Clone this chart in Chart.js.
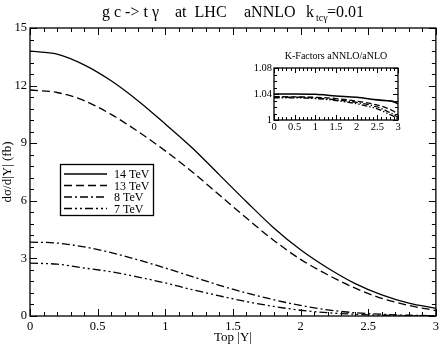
<!DOCTYPE html>
<html>
<head>
<meta charset="utf-8">
<script src="https://cdn.jsdelivr.net/npm/chart.js@4/dist/chart.umd.min.js"></script>
<style>
  html, body { margin: 0; padding: 0; background: #fff; }
  #wrap { position: relative; width: 442px; height: 345px; }
  #main { position: absolute; left: 0; top: 0; }
  #inset { position: absolute; left: 240px; top: 45px; }
</style>
</head>
<body>
<div id="wrap">
  <canvas id="main" width="442" height="345"></canvas>
  <canvas id="inset" width="170" height="95"></canvas>
</div>
<script>
// ---- data ----
const rapidity = [0, 0.2, 0.4, 0.6, 0.8, 1.0, 1.2, 1.4, 1.6, 1.8, 2.0, 2.2, 2.4, 2.6, 2.8, 3.0];
const seriesLabels = ['14 TeV', '13 TeV', '8 TeV', '7 TeV'];
const xsec14 = [13.8, 13.64, 13.08, 12.25, 11.2, 10.0, 8.75, 7.35, 5.95, 4.6, 3.45, 2.5, 1.7, 1.1, 0.67, 0.4];
const xsec13 = [11.77, 11.64, 11.22, 10.5, 9.6, 8.6, 7.5, 6.3, 5.1, 3.95, 2.95, 2.15, 1.46, 0.92, 0.55, 0.28];
const xsec8  = [3.85, 3.8, 3.6, 3.3, 2.92, 2.5, 2.05, 1.6, 1.2, 0.85, 0.55, 0.32, 0.17, 0.09, 0.04, 0.02];
const xsec7  = [2.75, 2.7, 2.5, 2.3, 2.03, 1.72, 1.37, 1.05, 0.75, 0.5, 0.3, 0.17, 0.09, 0.04, 0.02, 0.01];

const kRapidity = [0, 0.5, 1.0, 1.5, 2.0, 2.5, 2.75, 2.85, 3.0];
const kfac14 = [1.040, 1.040, 1.0395, 1.037, 1.035, 1.031, 1.0295, 1.029, 1.025];
const kfac13 = [1.036, 1.0355, 1.035, 1.033, 1.029, 1.023, 1.018, 1.015, 1.009];
const kfac8  = [1.035, 1.035, 1.034, 1.031, 1.027, 1.020, 1.013, 1.010, 1.004];
const kfac7  = [1.034, 1.034, 1.033, 1.030, 1.025, 1.017, 1.010, 1.007, 1.002];

const xTickStep = 0.5, yTickStep = 3;
const titleText = ['g c -> t \u03b3', 'at  LHC', 'aNNLO'];

// ---- styles ----
const dashes = [[], [8, 4], [8, 3, 2, 3], [8, 3, 2, 3, 2, 3]];
const serif = "'Liberation Serif', serif";

function pts(xs, ys) { return xs.map((x, i) => ({ x: x, y: ys[i] })); }
function fmt(v) { return String(Math.round(v * 100) / 100); }

// inward ticks + frame plugin
function makeFrame(cfg) {
  return {
    id: 'frame',
    afterDatasetsDraw(chart) {
      const { ctx, chartArea: a, scales } = chart;
      const sx = scales.x, sy = scales.y;
      ctx.save();
      ctx.strokeStyle = '#000';
      ctx.lineWidth = 1;
      const nx = Math.round((cfg.xmax - cfg.xmin) / cfg.xminor);
      for (let i = 0; i <= nx; i++) {
        const v = cfg.xmin + i * cfg.xminor;
        const px = Math.round(sx.getPixelForValue(v)) + 0.5;
        const len = (i % cfg.xevery === 0) ? cfg.major : cfg.minor;
        ctx.beginPath();
        ctx.moveTo(px, a.bottom); ctx.lineTo(px, a.bottom - len);
        ctx.moveTo(px, a.top); ctx.lineTo(px, a.top + len);
        ctx.stroke();
      }
      const ny = Math.round((cfg.ymax - cfg.ymin) / cfg.yminor);
      for (let i = 0; i <= ny; i++) {
        const v = cfg.ymin + i * cfg.yminor;
        const py = Math.round(sy.getPixelForValue(v)) + 0.5;
        const len = (i % cfg.yevery === 0) ? cfg.major : cfg.minor;
        ctx.beginPath();
        ctx.moveTo(a.left, py); ctx.lineTo(a.left + len, py);
        ctx.moveTo(a.right, py); ctx.lineTo(a.right - len, py);
        ctx.stroke();
      }
      ctx.lineWidth = cfg.frameWidth;
      ctx.strokeRect(a.left, a.top, a.right - a.left, a.bottom - a.top);
      ctx.restore();
    }
  };
}

const mainDecor = {
  id: 'mainDecor',
  afterDraw(chart) {
    const ctx = chart.ctx;
    ctx.save();
    ctx.fillStyle = '#000';
    ctx.textBaseline = 'alphabetic';
    ctx.font = '16px ' + serif;
    ctx.fillText(titleText[0], 102, 17);
    ctx.fillText(titleText[1], 175, 17);
    ctx.fillText(titleText[2], 244, 17);
    ctx.fillText('k', 306, 17);
    ctx.font = '10px ' + serif;
    ctx.fillText('tc\u03b3', 316, 21);
    ctx.font = '16px ' + serif;
    ctx.fillText('=0.01', 327, 17);

    // legend
    const bx = 60.5, by = 164.5, bw = 93, bh = 51;
    ctx.lineWidth = 1.3;
    ctx.strokeStyle = '#000';
    ctx.fillStyle = '#fff';
    ctx.fillRect(bx, by, bw, bh);
    ctx.strokeRect(bx, by, bw, bh);
    ctx.fillStyle = '#000';
    ctx.font = '12px ' + serif;
    ctx.textBaseline = 'middle';
    chart.data.datasets.forEach((ds, i) => {
      const yy = 174 + i * 11.5;
      ctx.beginPath();
      ctx.setLineDash(ds.borderDash || []);
      ctx.lineWidth = ds.borderWidth;
      ctx.moveTo(64, yy); ctx.lineTo(107, yy);
      ctx.stroke();
      ctx.setLineDash([]);
      ctx.fillText(ds.label, 114, yy + 1);
    });
    ctx.restore();
  }
};

const mainData = [xsec14, xsec13, xsec8, xsec7];
new Chart(document.getElementById('main'), {
  type: 'line',
  data: {
    datasets: mainData.map((ys, i) => ({
      label: seriesLabels[i],
      data: pts(rapidity, ys),
      borderColor: '#000',
      borderWidth: 1.3,
      borderDash: dashes[i],
      pointRadius: 0,
      fill: false,
      cubicInterpolationMode: 'monotone'
    }))
  },
  options: {
    responsive: false,
    animation: false,
    devicePixelRatio: 1,
    layout: { padding: { left: 0, right: 4, top: 28, bottom: 0 } },
    plugins: { legend: { display: false }, title: { display: false }, tooltip: { enabled: false } },
    scales: {
      x: {
        type: 'linear', min: 0, max: 3,
        afterFit(s) { s.height = 29; },
        grid: { display: false, drawTicks: false },
        border: { display: false },
        ticks: { stepSize: xTickStep, padding: 3, color: '#000', maxRotation: 0, font: { family: serif, size: 12.5 }, callback: fmt },
        title: { display: true, text: 'Top |Y|', color: '#000', padding: 0, font: { family: serif, size: 13 } }
      },
      y: {
        type: 'linear', min: 0, max: 15,
        afterFit(s) { s.width = 30; },
        grid: { display: false, drawTicks: false },
        border: { display: false },
        ticks: { stepSize: yTickStep, padding: 3, color: '#000', font: { family: serif, size: 12.5 }, callback: fmt },
        title: { display: true, text: 'd\u03c3/d|Y| (fb)', color: '#000', padding: 0, font: { family: serif, size: 13 } }
      }
    }
  },
  plugins: [makeFrame({ xmin: 0, xmax: 3, xminor: 0.1, xevery: 5, ymin: 0, ymax: 15, yminor: 0.6, yevery: 5, major: 7, minor: 4, frameWidth: 1.3 }), mainDecor]
});

// ---- inset ----
const insetDecor = {
  id: 'insetDecor',
  beforeDraw(chart) {
    const { ctx, chartArea: a } = chart;
    ctx.save();
    ctx.fillStyle = '#fff';
    ctx.fillRect(a.left, a.top, a.right - a.left, a.bottom - a.top);
    ctx.fillStyle = '#000';
    ctx.font = '10px ' + serif;
    ctx.textAlign = 'center';
    ctx.textBaseline = 'middle';
    ctx.fillText('K-Factors aNNLO/aNLO', (a.left + a.right) / 2, 11);
    ctx.restore();
  }
};
const kData = [kfac14, kfac13, kfac8, kfac7];
new Chart(document.getElementById('inset'), {
  type: 'line',
  data: {
    datasets: kData.map((ys, i) => ({
      label: seriesLabels[i],
      data: pts(kRapidity, ys),
      borderColor: '#000',
      borderWidth: i === 0 ? 1.6 : 1.3,
      borderDash: dashes[i].map(d => d * 0.7),
      pointRadius: 0,
      fill: false,
      cubicInterpolationMode: 'monotone'
    }))
  },
  options: {
    responsive: false,
    animation: false,
    devicePixelRatio: 1,
    layout: { padding: { left: 0, right: 12, top: 23, bottom: 0 } },
    plugins: { legend: { display: false }, title: { display: false }, tooltip: { enabled: false } },
    scales: {
      x: {
        type: 'linear', min: 0, max: 3,
        afterFit(s) { s.height = 20; },
        grid: { display: false, drawTicks: false },
        border: { display: false },
        ticks: { stepSize: 0.5, padding: 1, color: '#000', maxRotation: 0, font: { family: serif, size: 10.5 }, callback: fmt }
      },
      y: {
        type: 'linear', min: 1, max: 1.08,
        afterFit(s) { s.width = 34; },
        grid: { display: false, drawTicks: false },
        border: { display: false },
        ticks: { stepSize: 0.04, padding: 2, color: '#000', font: { family: serif, size: 10.5 }, callback: fmt }
      }
    }
  },
  plugins: [insetDecor, makeFrame({ xmin: 0, xmax: 3, xminor: 0.1, xevery: 5, ymin: 1, ymax: 1.08, yminor: 0.01, yevery: 4, major: 5, minor: 3, frameWidth: 1.3 })]
});
</script>
</body>
</html>
